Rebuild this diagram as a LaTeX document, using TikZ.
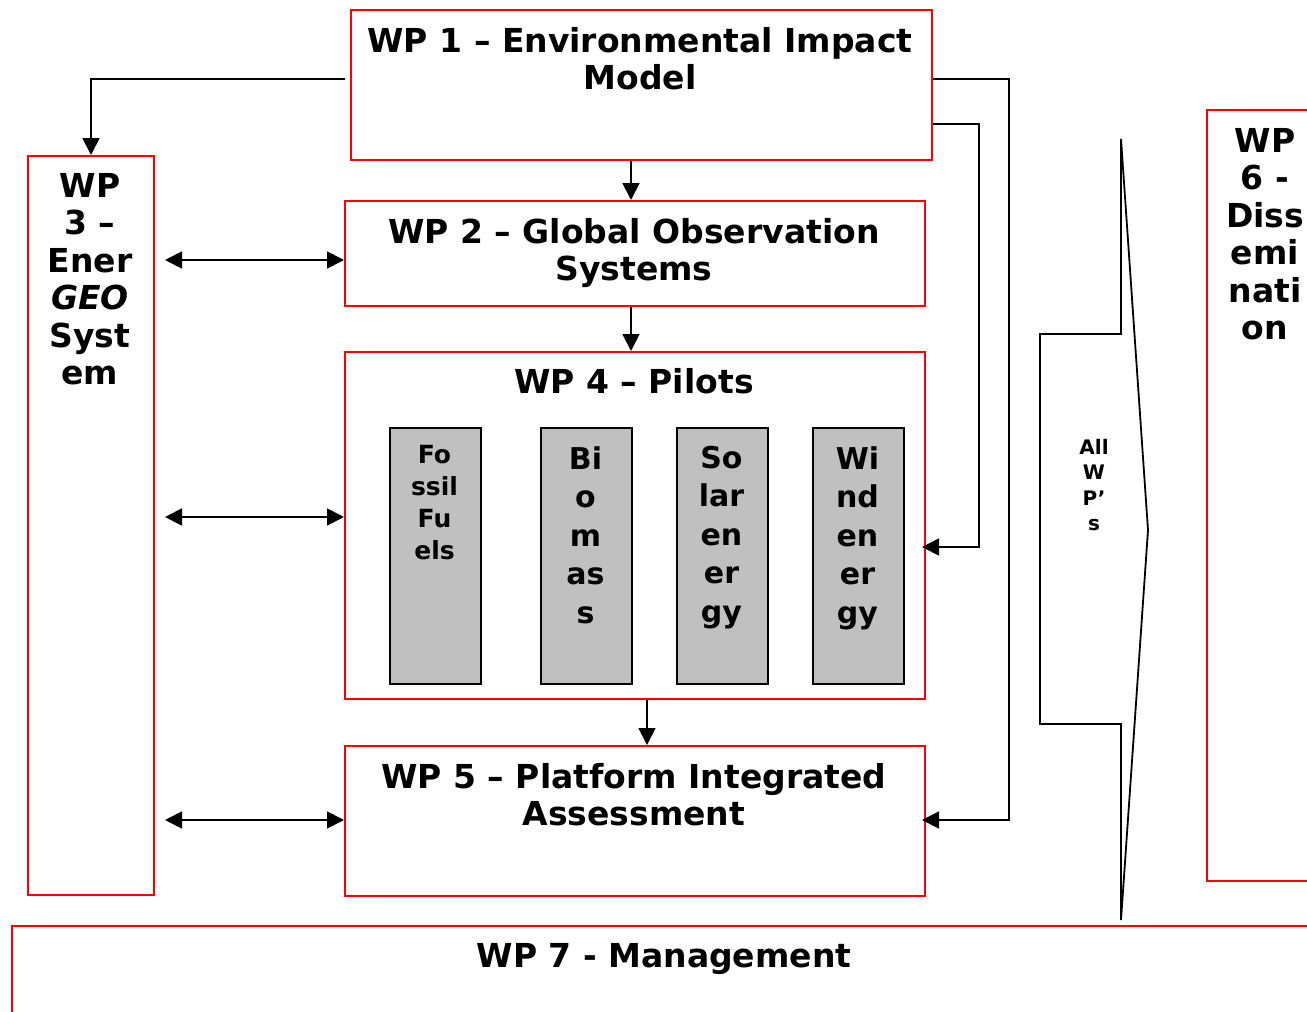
\documentclass[tikz,border=0pt]{standalone}
\usepackage{fontspec}
\setmainfont{DejaVu Sans}
\usetikzlibrary{arrows.meta}
\begin{document}
\begin{tikzpicture}[x=1pt,y=-1pt,
  wpbox/.style={draw=red, line width=2pt, rectangle, inner sep=0pt, anchor=north west},
  graybox/.style={draw=black, fill={rgb,255:red,192;green,192;blue,192}, line width=2pt, rectangle, inner sep=0pt, anchor=north west, minimum width=91pt, minimum height=256pt},
  bigtext/.style={font=\bfseries\fontsize{33}{37.5}\selectfont, align=center, inner sep=0pt, anchor=north},
  pilottext/.style={font=\bfseries\fontsize{30}{38.5}\selectfont, align=center, inner sep=0pt, anchor=north},
  fossiltext/.style={font=\bfseries\fontsize{25}{32}\selectfont, align=center, inner sep=0pt, anchor=north},
  smalltext/.style={font=\bfseries\fontsize{20}{25.5}\selectfont, align=center, inner sep=0pt, anchor=north},
  tip/.tip={Triangle[length=17pt,width=17pt]},
  arr/.style={-tip, line width=1.8pt},
  darr/.style={tip-tip, line width=1.8pt}
]
\useasboundingbox (0,0) rectangle (1307,1012);
% boxes
\node[wpbox, minimum width=581pt, minimum height=150pt] (wp1) at (350,9) {};
\node[wpbox, minimum width=126pt, minimum height=739pt] (wp3) at (27,155) {};
\node[wpbox, minimum width=580pt, minimum height=105pt] (wp2) at (344,200) {};
\node[wpbox, minimum width=580pt, minimum height=347pt] (wp4) at (344,351) {};
\node[wpbox, minimum width=580pt, minimum height=150pt] (wp5) at (344,745) {};
\node[wpbox, minimum width=120pt, minimum height=771pt] (wp6) at (1206,109) {};
\node[wpbox, minimum width=1320pt, minimum height=120pt] (wp7) at (11,925) {};
% gray boxes
\node[graybox] (fos) at (389,427) {};
\node[graybox] (bio) at (540,427) {};
\node[graybox] (sol) at (676,427) {};
\node[graybox] (win) at (812,427) {};
% texts
\node[bigtext] (wp1t) at (640,27) {WP 1 – Environmental Impact\\Model};
\node[bigtext] (wp2t) at (634,218) {WP 2 – Global Observation\\Systems};
\node[bigtext] (wp4t) at (634,368) {WP 4 – Pilots};
\node[bigtext] (wp5t) at (634,763) {WP 5 – Platform Integrated\\Assessment};
\node[bigtext] (wp3t) at (90,173) {WP\\3 –\\Ener\\\textit{GEO}\\Syst\\em};
\node[bigtext] (wp6t) at (1265,128) {WP\\6 -\\Diss\\emi\\nati\\on};
\node[bigtext] (wp7t) at (664,943) {WP 7 - Management};
\node[fossiltext] (fost) at (434.5,445) {Fo\\ssil\\Fu\\els};
\node[pilottext] (biot) at (585.5,446) {Bi\\o\\m\\as\\s};
\node[pilottext] (solt) at (721.5,446) {So\\lar\\en\\er\\gy};
\node[pilottext] (wint) at (857.5,446) {Wi\\nd\\en\\er\\gy};
\node[smalltext] (allt) at (1094,439) {All\\W\\P’\\s};
% big arrow shape
\draw[line width=1.8pt, line join=miter] (1121,139) -- (1121,334) -- (1040,334) -- (1040,724) -- (1121,724) -- (1121,920) -- (1148,530) -- cycle;
% connectors
\coordinate (wp1out) at (345,79);
\draw[arr] (wp1out) -| (wp3.north);
\draw[arr] (631,0 |- wp1.south) -- (631,0 |- wp2.north);
\draw[arr] (631,0 |- wp2.south) -- (631,0 |- wp4.north);
\draw[arr] (647,0 |- wp4.south) -- (647,0 |- wp5.north);
\draw[darr, shorten <=10pt] (wp3.east |- 0,260) -- (wp2.west |- 0,260);
\draw[darr, shorten <=10pt] (wp3.east |- 0,517) -- (wp4.west |- 0,517);
\draw[darr, shorten <=10pt] (wp3.east |- 0,820) -- (wp5.west |- 0,820);
\draw[arr, shorten >=-4pt] (wp1.east |- 0,79) -- (1009,79) |- (wp5.east |- 0,820);
\draw[arr, shorten >=-4pt] (wp1.east |- 0,124) -- (979,124) |- (wp4.east |- 0,547);
\end{tikzpicture}
\end{document}
